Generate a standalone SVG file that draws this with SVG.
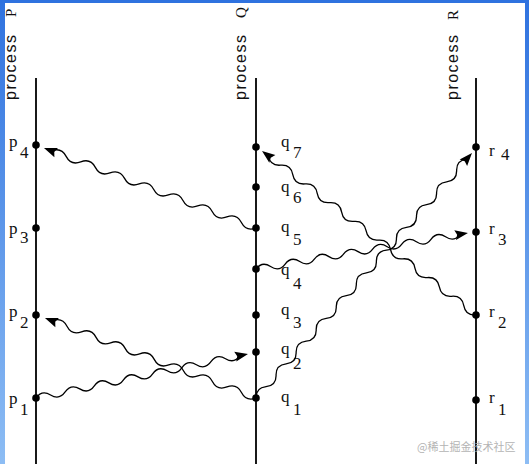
<svg xmlns="http://www.w3.org/2000/svg" width="529" height="464" viewBox="0 0 529 464">
<defs>
<linearGradient id="edge" x1="0" y1="0" x2="0" y2="1">
<stop offset="0" stop-color="#2f72df"/>
<stop offset="1" stop-color="#8dbdf4"/>
</linearGradient>
</defs>
<style>
.life{stroke:#000;stroke-width:1.8;fill:none}
.dot{fill:#000}
.wave{stroke:#000;stroke-width:1.3;fill:none}
.head{fill:#000}
.proc{font-family:"Liberation Sans",Arial,sans-serif;font-size:16px;fill:#111}
.pname{font-family:"Liberation Serif","Times New Roman",serif;font-size:15px;fill:#111}
.ev{font-family:"Liberation Serif","Times New Roman",serif;font-size:17px;fill:#111}
.wm{font-family:"Noto Sans CJK SC","Liberation Sans",sans-serif;font-size:11px;fill:#b4b4b4}
</style>
<rect x="0" y="0" width="529" height="464" fill="#fff"/>
<rect x="0" y="0" width="5" height="464" fill="url(#edge)"/>
<rect x="525" y="0" width="4" height="464" fill="url(#edge)"/>
<rect x="0" y="0" width="529" height="3" fill="#2f72df"/>

<g id="processP">
<line class="life" x1="36" y1="78" x2="36" y2="464"/>
<text class="proc" transform="translate(16,100) rotate(-90)" textLength="65" lengthAdjust="spacing">process</text>
<text class="pname" transform="translate(16,17) rotate(-90)">P</text>
</g>
<g id="processQ">
<line class="life" x1="256" y1="78" x2="256" y2="464"/>
<text class="proc" transform="translate(246,100) rotate(-90)" textLength="65" lengthAdjust="spacing">process</text>
<text class="pname" transform="translate(246,18) rotate(-90)">Q</text>
</g>
<g id="processR">
<line class="life" x1="476" y1="78" x2="476" y2="464"/>
<text class="proc" transform="translate(458,100) rotate(-90)" textLength="65" lengthAdjust="spacing">process</text>
<text class="pname" transform="translate(458,20) rotate(-90)">R</text>
</g>

<g id="p4"><circle class="dot" cx="36" cy="145" r="3.8"/><text class="ev" x="9" y="147">p</text><text class="ev" x="20" y="158">4</text></g>
<g id="p3"><circle class="dot" cx="36" cy="228" r="3.8"/><text class="ev" x="9" y="234">p</text><text class="ev" x="20" y="243">3</text></g>
<g id="p2"><circle class="dot" cx="36" cy="315" r="3.8"/><text class="ev" x="9" y="317">p</text><text class="ev" x="20" y="328">2</text></g>
<g id="p1"><circle class="dot" cx="36" cy="398" r="3.8"/><text class="ev" x="9" y="404">p</text><text class="ev" x="20" y="415">1</text></g>

<g id="q7"><circle class="dot" cx="256" cy="147" r="3.8"/><text class="ev" x="281" y="147">q</text><text class="ev" x="293" y="158">7</text></g>
<g id="q6"><circle class="dot" cx="256" cy="187" r="3.8"/><text class="ev" x="281" y="192">q</text><text class="ev" x="293" y="203">6</text></g>
<g id="q5"><circle class="dot" cx="256" cy="228" r="3.8"/><text class="ev" x="281" y="232">q</text><text class="ev" x="293" y="245">5</text></g>
<g id="q4"><circle class="dot" cx="256" cy="269" r="3.8"/><text class="ev" x="281" y="275">q</text><text class="ev" x="293" y="289">4</text></g>
<g id="q3"><circle class="dot" cx="256" cy="315" r="3.8"/><text class="ev" x="281" y="315">q</text><text class="ev" x="293" y="328">3</text></g>
<g id="q2"><circle class="dot" cx="256" cy="352" r="3.8"/><text class="ev" x="281" y="354">q</text><text class="ev" x="293" y="369">2</text></g>
<g id="q1"><circle class="dot" cx="256" cy="398" r="3.8"/><text class="ev" x="281" y="402">q</text><text class="ev" x="293" y="415">1</text></g>

<g id="r4"><circle class="dot" cx="476" cy="147" r="3.8"/><text class="ev" x="489" y="156">r</text><text class="ev" x="501" y="160">4</text></g>
<g id="r3"><circle class="dot" cx="476" cy="232" r="3.8"/><text class="ev" x="489" y="234">r</text><text class="ev" x="498" y="245">3</text></g>
<g id="r2"><circle class="dot" cx="476" cy="315" r="3.8"/><text class="ev" x="489" y="317">r</text><text class="ev" x="498" y="328">2</text></g>
<g id="r1"><circle class="dot" cx="476" cy="400" r="3.8"/><text class="ev" x="489" y="403">r</text><text class="ev" x="498" y="415">1</text></g>

<g id="connectors">
<g transform="translate(256,228) rotate(-159.33)">
<path class="wave" d="M0,0q7.81,-7 15.61,0t15.61,0t15.61,0t15.61,0t15.61,0t15.61,0t15.61,0t15.61,0t15.61,0t15.61,0t15.61,0t15.61,0t15.61,0t15.61,0"/>
<polygon class="head" points="226.6,0 213.6,-5 215.6,0 213.6,5"/>
</g>
<g transform="translate(256,398) rotate(-159.23)">
<path class="wave" d="M0,0q7.78,-7 15.55,0t15.55,0t15.55,0t15.55,0t15.55,0t15.55,0t15.55,0t15.55,0t15.55,0t15.55,0t15.55,0t15.55,0t15.55,0t15.55,0"/>
<polygon class="head" points="225.7,0 212.7,-5 214.7,0 212.7,5"/>
</g>
<g transform="translate(36,398) rotate(-11.72)">
<path class="wave" d="M0,0q7.45,-7 14.89,0t14.89,0t14.89,0t14.89,0t14.89,0t14.89,0t14.89,0t14.89,0t14.89,0t14.89,0t14.89,0t14.89,0t14.89,0t14.89,0"/>
<polygon class="head" points="216.5,0 203.5,-5 205.5,0 203.5,5"/>
</g>
<g transform="translate(256,269) rotate(-9.64)">
<path class="wave" d="M0,0q7.4,-7 14.79,0t14.79,0t14.79,0t14.79,0t14.79,0t14.79,0t14.79,0t14.79,0t14.79,0t14.79,0t14.79,0t14.79,0t14.79,0t14.79,0"/>
<polygon class="head" points="215,0 202,-5 204,0 202,5"/>
</g>
<g transform="translate(476,315) rotate(-142.53)">
<path class="wave" d="M0,0q7.7,-7 15.39,0t15.39,0t15.39,0t15.39,0t15.39,0t15.39,0t15.39,0t15.39,0t15.39,0t15.39,0t15.39,0t15.39,0t15.39,0t15.39,0t15.39,0t15.39,0t15.39,0"/>
<polygon class="head" points="269.6,0 256.6,-5 258.6,0 256.6,5"/>
</g>
<g transform="translate(256,398) rotate(-48.6)">
<path class="wave" d="M0,0q7.59,-7 15.17,0t15.17,0t15.17,0t15.17,0t15.17,0t15.17,0t15.17,0t15.17,0t15.17,0t15.17,0t15.17,0t15.17,0t15.17,0t15.17,0t15.17,0t15.17,0t15.17,0t15.17,0t15.17,0t15.17,0t15.17,0"/>
<polygon class="head" points="326.6,0 313.6,-5 315.6,0 313.6,5"/>
</g>
</g>

<text class="wm" x="417" y="451">@稀土掘金技术社区</text>
</svg>
